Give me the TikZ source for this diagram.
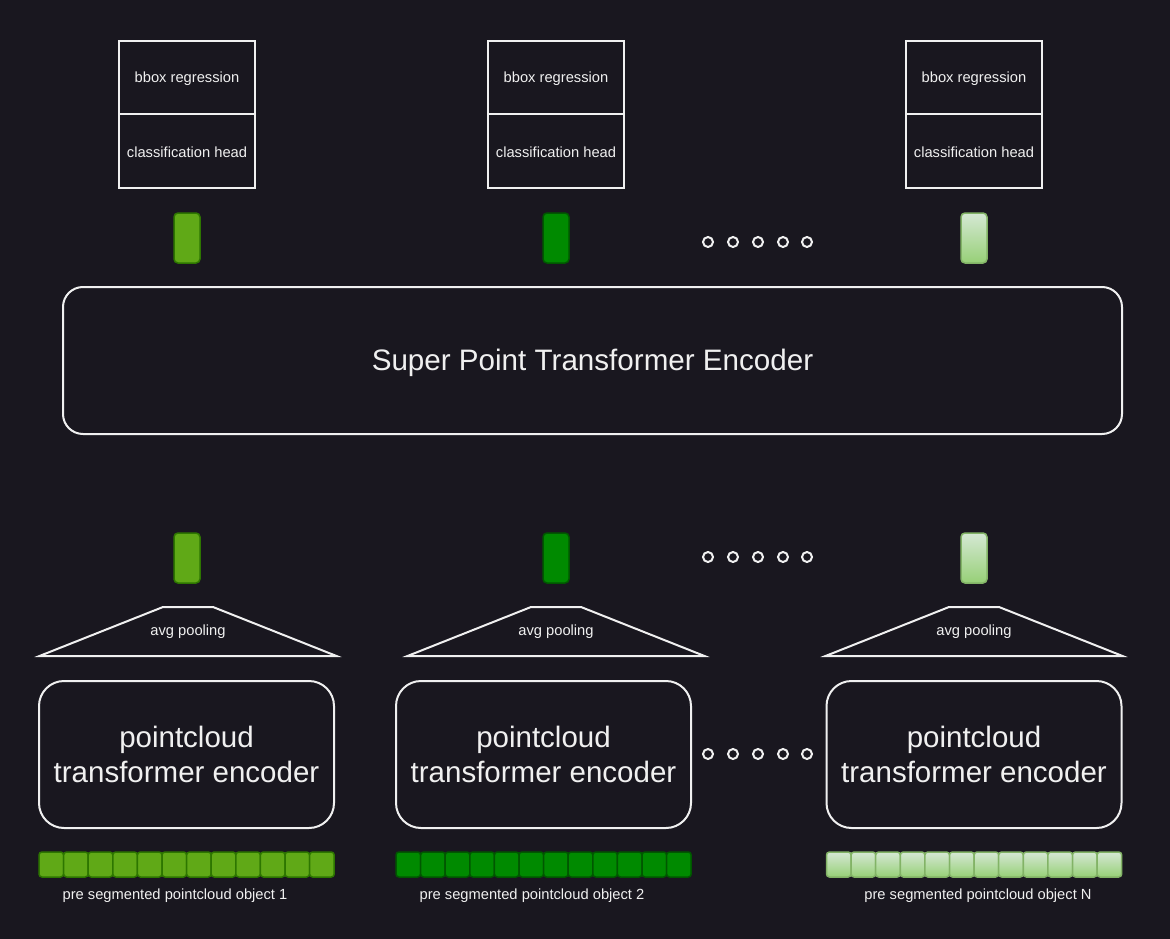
\documentclass[tikz,border=0pt]{standalone}
\usepackage{fontspec}
\setmainfont{Liberation Sans}
\definecolor{bg}{HTML}{19171F}
\definecolor{fg}{HTML}{F0F0F0}
\definecolor{gA}{HTML}{60A917}
\definecolor{gAd}{HTML}{2D7600}
\definecolor{gB}{HTML}{008A00}
\definecolor{gBd}{HTML}{005700}
\definecolor{gCt}{HTML}{D5E8D4}
\definecolor{gCb}{HTML}{97D077}
\definecolor{gCd}{HTML}{82B366}
\newcommand\fsmall{\fontsize{14.7}{17}\selectfont}
\newcommand\fbig{\fontsize{29.5}{35}\selectfont}
\newcommand\fhuge{\fontsize{29.6}{35}\selectfont}
\newcommand\dn[2]{\raisebox{-#1}[\height][\depth]{#2}}
\begin{document}
\begin{tikzpicture}[x=1pt,y=-1pt,
  line/.style={draw=fg, line width=2pt},
  head/.style={line, rectangle, minimum width=136pt, minimum height=73.5pt, inner sep=0pt, text=fg, font=\fsmall},
  tokbase/.style={rectangle, rounded corners=4pt, minimum width=26pt, minimum height=50pt, inner sep=0pt, line width=1.5pt},
  tokA/.style={tokbase, fill=gA, draw=gAd},
  tokB/.style={tokbase, fill=gB, draw=gBd},
  tokC/.style={tokbase, top color=gCt, bottom color=gCb, draw=gCd},
  dotc/.style={circle, draw=fg, line width=2pt, minimum size=10pt, inner sep=0pt},
  enc/.style={line, rectangle, rounded corners=25pt, minimum width=295pt, minimum height=147pt, align=center, text=fg, font=\fbig},
  lbl/.style={text=fg, font=\fsmall, inner sep=0pt},
  cellA/.style={fill=gA, draw=gAd, line width=1.5pt, rounded corners=3pt},
  cellB/.style={fill=gB, draw=gBd, line width=1.5pt, rounded corners=3pt},
  cellC/.style={top color=gCt, bottom color=gCb, draw=gCd, line width=1.5pt, rounded corners=3pt},
]
\fill[bg] (0,0) rectangle (1170,939);
\useasboundingbox (0,0) rectangle (1170,939);

% heads
\foreach \i/\x in {1/187,2/556,3/974} {
  \node[head] (bbox\i) at (\x,77.5) {\dn{1.5pt}{bbox regression}};
  \node[head] (cls\i) at (\x,151) {\dn{1.5pt}{classification head}};
}

% output tokens
\node[tokA] (outA) at (187,238) {};
\node[tokB] (outB) at (556,238) {};
\node[tokC] (outC) at (974,238) {};

% input tokens
\node[tokA] (inA) at (187,558) {};
\node[tokB] (inB) at (556,558) {};
\node[tokC] (inC) at (974,558) {};

% dots
\foreach \r/\y in {t/242,m/557,b/754} {
  \foreach \k/\x in {1/708,2/733,3/758,4/783,5/807} {
    \node[dotc] (dot\r\k) at (\x,\y) {};
  }
}

% super point transformer
\node[line, rectangle, rounded corners=20pt, minimum width=1059pt, minimum height=147pt, text=fg, font=\fhuge] (spt) at (592.5,360.5) {\dn{2.5pt}{Super Point Transformer Encoder}};

% avg pooling trapezoids
\foreach \i/\c in {1/188,2/556,3/974} {
  \draw[line, line join=miter] (\c-148.5,656) -- (\c-25,607) -- (\c+25,607) -- (\c+148.5,656) -- cycle;
  \node[lbl] (pool\i) at (\c,631.5) {avg pooling};
}

% encoders
\node[enc] (enc1) at (186.5,754.5) {pointcloud\\transformer encoder};
\node[enc] (enc2) at (543.5,754.5) {pointcloud\\transformer encoder};
\node[enc] (enc3) at (974,754.5) {pointcloud\\transformer encoder};

% strips
\foreach \s/\x in {A/39,B/396,C/826.5} {
  \foreach \k in {0,...,11} {
    \path[cell\s] (\x+\k*24.6,852) rectangle (\x+\k*24.6+24.6,877);
  }
}

% labels
\node[lbl] (obj1) at (175,895.5) {pre segmented pointcloud object 1};
\node[lbl] (obj2) at (532,895.5) {pre segmented pointcloud object 2};
\node[lbl] (objN) at (978,895.5) {pre segmented pointcloud object N};
\end{tikzpicture}
\end{document}
